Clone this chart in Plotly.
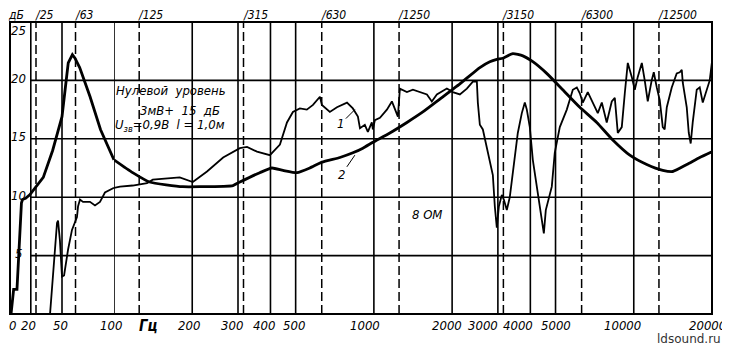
import math
import plotly.graph_objects as go

# ---------------- data ----------------
# curve 1 : sound pressure level, dB
FREQ_1 = [38.5, 41.3, 45.2, 46.2, 48, 50, 52, 55.8, 59.6, 64.4, 65.4, 67.3, 70.2, 76.9, 81.7, 86.5,
          91.3, 100, 105.5, 118, 134, 141, 160, 179, 201, 228, 263, 305, 325, 355, 398, 435, 463,
          488, 519, 552, 583, 620, 631, 677, 721, 788, 830, 868, 884, 923, 948, 982, 991, 1009,
          1055, 1122, 1173, 1205, 1237, 1259, 1340, 1413, 1530, 1600, 1671, 1747, 1909, 2013,
          2142, 2279, 2403, 2490, 2512, 2557, 2626, 2721, 2793, 2869, 2920, 2972, 3026, 3107,
          3162, 3247, 3334, 3485, 3579, 3709, 3809, 3877, 3981, 4088, 4273, 4427, 4508, 4587,
          4668, 4837, 4966, 5193, 5525, 5827, 6038, 6199, 6366, 6653, 6955, 7270, 7534, 7870,
          8229, 8453, 8680, 8992, 9236, 9484, 9825, 10090, 10360, 10740, 11020, 11320, 11720,
          11940, 12260, 12590, 12930, 13150, 13400, 14000, 14630, 15030, 15300, 15440, 15990,
          16280, 16560, 16860, 17470, 17940, 18430, 19090, 19600, 20000]
LEVEL_1 = [0.0, 3.5, 7.8, 8.0, 6.3, 3.2, 3.3, 5.5, 7.2, 8.3, 9.2, 9.8, 9.6, 9.6, 9.3, 9.6,
           10.4, 10.8, 10.9, 11.0, 11.2, 11.5, 11.6, 11.7, 11.3, 12.2, 13.4, 14.2, 14.3, 13.9, 13.6, 14.5, 16.4,
           17.3, 17.6, 17.5, 17.9, 18.6, 17.9, 17.3, 17.7, 18.1, 17.6, 16.9, 15.9, 16.2, 15.6, 16.4, 15.8, 16.6,
           16.8, 17.5, 18.2, 17.5, 16.9, 19.3, 19.0, 19.2, 18.9, 18.8, 18.2, 18.8, 19.3, 19.0,
           18.8, 19.3, 19.9, 19.9, 18.1, 16.2, 15.8, 14.3, 13.2, 11.9, 9.2, 7.4, 9.2, 10.2,
           9.8, 8.9, 10.0, 13.2, 15.5, 17.2, 18.1, 17.5, 16.0, 13.2, 10.4, 8.0, 6.9, 8.9,
           9.5, 10.9, 13.8, 16.0, 17.5, 19.2, 19.4, 18.9, 18.1, 19.0, 18.1, 17.2, 18.1, 16.4,
           18.2, 18.5, 15.5, 16.0, 18.9, 21.5, 20.3, 19.2, 20.3, 21.5, 20.0, 18.2, 20.0,
           20.7, 19.4, 18.3, 16.0, 15.8, 17.7, 19.4, 20.6, 20.7, 20.9, 19.8, 17.7,
           15.5, 14.6, 16.4, 19.2, 19.4, 18.1, 19.2, 20.0, 21.6]

# curve 2 : smooth curve, dB
FREQ_2 = [1, 3.5, 6.7, 11, 12, 15, 19, 32, 41, 50, 53, 56, 60, 62.5, 67, 77, 87, 100,
          118, 137, 184, 214, 287, 305, 364, 405, 447, 506, 567, 631, 740, 830, 907, 991,
          1152, 1340, 1543, 1794, 2142, 2557, 2793, 2972, 3134, 3424, 3744, 4088, 4624,
          5330, 6199, 7205, 8304, 9655, 11220, 12930, 14130, 15990, 17940, 20000]
LEVEL_2 = [0.0, 2.1, 2.1, 9.5, 9.8, 9.9, 10.2, 11.7, 14.0, 16.9, 19.2, 21.5, 22.2, 21.9, 21.1, 18.6, 15.8, 13.2,
           12.1, 11.3, 10.9, 10.9, 11.0, 11.3, 12.1, 12.5, 12.3, 12.1, 12.5, 13.0, 13.4, 13.8, 14.2, 14.7,
           15.5, 16.4, 17.3, 18.4, 19.7, 21.1, 21.6, 21.8, 21.9, 22.3, 22.1, 21.6, 20.6,
           19.2, 17.7, 16.4, 14.9, 13.6, 12.8, 12.3, 12.2, 12.8, 13.4, 13.9]

# axis ticks / grid
TICKS_BOTTOM = [0, 20, 50, 100, 200, 300, 400, 500, 1000, 2000, 3000, 4000, 5000, 10000, 20000]
TICK_SHIFT = [2, -2, -2, -3, -3, -6, -6, -2, -9, -5, -15, -12, 0, -11, -5]   # label nudges, px
GRID_SOLID = [20, 50, 100, 200, 300, 400, 500, 1000, 2000, 3000, 4000, 5000, 10000]
GRID_DASH = [25, 63, 125, 315, 630, 1250, 3150, 6300, 12500]
TOP_LABELS = ["/25", "/63", "/125", "/315", "/630", "/1250", "/3150", "/6300", "/12500"]
Y_GRID = [5, 10, 15, 20]
Y_LABELS = [25, 20, 15, 10, 5]

# ---------------- layout constants ----------------
BODY = 8                     # default page margin of the html body
W, H = 730 - BODY, 349 - BODY
ML, MR, MT, MB = 10 - BODY, 18, 22 - BODY, 35
PW = W - ML - MR
X_SPLIT = 104 / PW          # linear part (0..100 Hz) occupies this share of the width
SPLIT_F = 100
FONT = "DejaVu Sans Condensed, DejaVu Sans, sans-serif"
ITAL = dict(family=FONT, size=13, color="black", style="italic")
ITAL_TOP = dict(ITAL, size=12)


def xref_of(f):
    return "x" if f < SPLIT_F else "x2"


def xval(f):
    # annotations on a log axis take log10 of the value
    return f if f < SPLIT_F else math.log10(f)


def split(freqs, levels):
    lo = [(f, v) for f, v in zip(freqs, levels) if f <= SPLIT_F]
    hi = [(f, v) for f, v in zip(freqs, levels) if f >= SPLIT_F]
    return lo, hi


fig = go.Figure()

for freqs, levels, width, shape in [(FREQ_1, LEVEL_1, 1.8, "linear"), (FREQ_2, LEVEL_2, 2.8, "spline")]:
    lo, hi = split(freqs, levels)
    fig.add_trace(go.Scatter(x=[p[0] for p in lo], y=[p[1] for p in lo], xaxis="x", yaxis="y",
                             mode="lines", line=dict(color="black", width=width),
                             showlegend=False, hoverinfo="skip"))
    line = dict(color="black", width=width, shape=shape)
    if shape == "spline":
        line["smoothing"] = 0.5
    fig.add_trace(go.Scatter(x=[p[0] for p in hi], y=[p[1] for p in hi], xaxis="x2", yaxis="y",
                             mode="lines", line=line, showlegend=False, hoverinfo="skip"))

shapes = []
for f in GRID_SOLID:
    shapes.append(dict(type="line", xref=xref_of(f), yref="y", x0=f, x1=f, y0=0, y1=25,
                       line=dict(color="black", width=1.6), layer="below"))
for f in GRID_DASH:
    shapes.append(dict(type="line", xref=xref_of(f), yref="y", x0=f, x1=f, y0=0, y1=25,
                       line=dict(color="black", width=1.5, dash="9px,4px"), layer="below"))
for v in Y_GRID:
    shapes.append(dict(type="line", xref="paper", yref="y", x0=X_SPLIT * 20 / SPLIT_F, x1=1, y0=v, y1=v,
                       line=dict(color="black", width=1.6), layer="below"))
shapes.append(dict(type="rect", xref="paper", yref="paper", x0=0, x1=1, y0=0, y1=1,
                   line=dict(color="black", width=2)))

ann = []
# bottom frequency labels
for f, s in zip(TICKS_BOTTOM, TICK_SHIFT):
    ann.append(dict(x=xval(f), y=0, xref=xref_of(f), yref="paper", text=str(f), showarrow=False,
                    xanchor="center", yanchor="middle", xshift=s, yshift=-11, font=ITAL))
# top 1/3-octave labels
for f, t in zip(GRID_DASH, TOP_LABELS):
    ann.append(dict(x=xval(f), y=1, xref=xref_of(f), yref="paper", text=t,
                    showarrow=False, xanchor="left", yanchor="bottom", xshift=-3, yshift=-2,
                    font=ITAL_TOP))
ann.append(dict(x=6 / PW, y=1, xref="paper", yref="paper", text="дБ", showarrow=False,
                xanchor="center", yanchor="bottom", yshift=-2, font=ITAL_TOP))
# y labels inside the frame
for v in Y_LABELS:
    ann.append(dict(x=8 / PW, y=v, xref="paper", yref="y", text=str(v), showarrow=False,
                    xanchor="center", yanchor="middle", yshift=-8 if v == 25 else 2, font=ITAL))
ann.append(dict(x=138 / PW, y=0, xref="paper", yref="paper", text="<b>Гц</b>", showarrow=False,
                xanchor="center", yanchor="middle", yshift=-12, font=dict(ITAL, size=15)))
# text block
ann.append(dict(x=161 / PW, y=19.1, xref="paper", yref="y", text="Нулевой  уровень", showarrow=False,
                xanchor="center", yanchor="middle", font=ITAL))
ann.append(dict(x=170 / PW, y=17.4, xref="paper", yref="y", text="3мВ+  15  дБ", showarrow=False,
                xanchor="center", yanchor="middle", font=ITAL))
ann.append(dict(x=160 / PW, y=16.1, xref="paper", yref="y", text="U<sub>зв</sub>=0,9В  l = 1,0м",
                showarrow=False, xanchor="center", yanchor="middle", font=ITAL))
ann.append(dict(x=417 / PW, y=8.5, xref="paper", yref="y", text="8 ОМ", showarrow=False,
                xanchor="center", yanchor="middle", font=ITAL))
# curve numbers
ann.append(dict(x=xval(845), y=17.5, xref="x2", yref="y", text="1", showarrow=True, arrowhead=0,
                arrowwidth=1, arrowcolor="black", ax=-14, ay=14, standoff=0, font=ITAL))
ann.append(dict(x=xval(845), y=13.6, xref="x2", yref="y", text="2", showarrow=True, arrowhead=0,
                arrowwidth=1, arrowcolor="black", ax=-13, ay=19, standoff=0, font=ITAL))
# watermark
ann.append(dict(x=1, y=0, xref="paper", yref="paper", text="ldsound.ru", showarrow=False,
                xanchor="right", yanchor="top", xshift=11, yshift=-16,
                font=dict(family="DejaVu Sans", size=12, color="#333333")))

axis_common = dict(showgrid=False, zeroline=False, showline=False, ticks="", showticklabels=False,
                   anchor="y", fixedrange=True, automargin=False)
fig.update_layout(
    template="none",
    width=W, height=H,
    margin=dict(l=ML, r=MR, t=MT, b=MB, pad=0, autoexpand=False),
    paper_bgcolor="white", plot_bgcolor="white",
    xaxis=dict(domain=[0, X_SPLIT], range=[0, SPLIT_F], type="linear", **axis_common),
    xaxis2=dict(domain=[X_SPLIT, 1], range=[math.log10(SPLIT_F), math.log10(20000)], type="log",
                **axis_common),
    yaxis=dict(range=[0, 25], showgrid=False, zeroline=False, showticklabels=False, ticks="",
               fixedrange=True, automargin=False),
    shapes=shapes, annotations=ann,
)

fig.write_html("out.html")
